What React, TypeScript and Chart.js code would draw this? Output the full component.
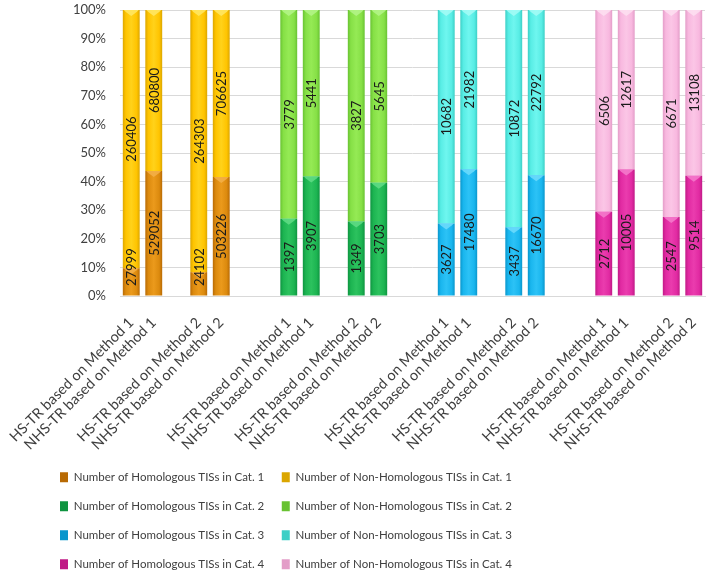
import React, { useEffect, useRef } from "react";
import { Chart, registerables } from "chart.js";

Chart.register(...registerables);

const categories = [
  "HS-TR based on Method 1", "NHS-TR based on Method 1", "", "HS-TR based on Method 2", "NHS-TR based on Method 2", "", "",
  "HS-TR based on Method 1", "NHS-TR based on Method 1", "", "HS-TR based on Method 2", "NHS-TR based on Method 2", "", "",
  "HS-TR based on Method 1", "NHS-TR based on Method 1", "", "HS-TR based on Method 2", "NHS-TR based on Method 2", "", "",
  "HS-TR based on Method 1", "NHS-TR based on Method 1", "", "HS-TR based on Method 2", "NHS-TR based on Method 2",
];

const homCat1 = [27999, 529052, 24102, 503226];
const nonHomCat1 = [260406, 680800, 264303, 706625];
const homCat2 = [1397, 3907, 1349, 3703];
const nonHomCat2 = [3779, 5441, 3827, 5645];
const homCat3 = [3627, 17480, 3437, 16670];
const nonHomCat3 = [10682, 21982, 10872, 22792];
const homCat4 = [2712, 10005, 2547, 9514];
const nonHomCat4 = [6506, 12617, 6671, 13108];

const yTicks = [0, 10, 20, 30, 40, 50, 60, 70, 80, 90, 100];

const seriesNames = [
  "Number of Homologous TISs in Cat. 1", "Number of Non-Homologous TISs in Cat. 1",
  "Number of Homologous TISs in Cat. 2", "Number of Non-Homologous TISs in Cat. 2",
  "Number of Homologous TISs in Cat. 3", "Number of Non-Homologous TISs in Cat. 3",
  "Number of Homologous TISs in Cat. 4", "Number of Non-Homologous TISs in Cat. 4",
];

// [dark edge, base, light centre, bevel highlight]
const palette = [
  ["#b86a04", "#dc8a0e", "#eb9a1c", "#f3b04a"],
  ["#dba600", "#ffc400", "#ffd21a", "#ffe766"],
  ["#0e9440", "#1cb451", "#2cc25e", "#62dc86"],
  ["#68c232", "#86e046", "#95ea55", "#b4f48a"],
  ["#0996cc", "#19b6ee", "#2cc2f6", "#6edcfc"],
  ["#3ccfc6", "#58ede5", "#6ff6ef", "#a6fbf6"],
  ["#c01a86", "#e12aa2", "#ea3cae", "#f47ccc"],
  ["#e39dc8", "#f8b8df", "#fbc6e6", "#fde0f1"],
];

const groups = [
  [homCat1, nonHomCat1],
  [homCat2, nonHomCat2],
  [homCat3, nonHomCat3],
  [homCat4, nonHomCat4],
];

function buildDatasets() {
  const slotMap: Array<[number, number] | null> = [];
  let n = 0;
  categories.forEach((c) => {
    if (c === "") slotMap.push(null);
    else {
      slotMap.push([Math.floor(n / 4), n % 4]);
      n++;
    }
  });
  const ds: any[] = [];
  groups.forEach((pair, g) => {
    pair.forEach((arr, s) => {
      const idx = g * 2 + s;
      const col = palette[idx];
      const raw: (number | null)[] = [];
      const pct: (number | null)[] = [];
      slotMap.forEach((m) => {
        if (m && m[0] === g) {
          const total = pair[0][m[1]] + pair[1][m[1]];
          raw.push(arr[m[1]]);
          pct.push((arr[m[1]] / total) * 100);
        } else {
          raw.push(null);
          pct.push(null);
        }
      });
      ds.push({
        label: seriesNames[idx],
        data: pct,
        rawValues: raw,
        bevel: col[3],
        stack: "s",
        barPercentage: 0.75,
        categoryPercentage: 1,
        borderWidth: 0,
        backgroundColor: (ctx: any) => {
          const chart = ctx.chart;
          const xs = chart.scales && chart.scales.x;
          if (ctx.type !== "data" || !xs) return col[1];
          const cx = xs.getPixelForValue(ctx.dataIndex);
          if (!isFinite(cx)) return col[1];
          const w = 17;
          const gr = chart.ctx.createLinearGradient(cx - w / 2, 0, cx + w / 2, 0);
          gr.addColorStop(0, col[0]);
          gr.addColorStop(0.18, col[1]);
          gr.addColorStop(0.5, col[2]);
          gr.addColorStop(0.82, col[1]);
          gr.addColorStop(1, col[0]);
          return gr;
        },
      });
    });
  });
  return ds;
}

const barDecor = {
  id: "barDecor",
  afterDatasetsDraw(chart: any) {
    const ctx = chart.ctx;
    const area = chart.chartArea;
    ctx.save();
    chart.data.datasets.forEach((ds: any, i: number) => {
      const meta = chart.getDatasetMeta(i);
      meta.data.forEach((el: any, j: number) => {
        const v = ds.rawValues[j];
        if (v == null) return;
        const { x, y, width } = el.getProps(["x", "y", "width"], true);
        const l = x - width / 2;
        const r = x + width / 2;
        ctx.fillStyle = ds.bevel;
        ctx.globalAlpha = 0.85;
        ctx.beginPath();
        ctx.moveTo(l + 1, y);
        ctx.lineTo(r - 1, y);
        ctx.lineTo(r - 3, y + 2);
        ctx.lineTo(x, y + 6);
        ctx.lineTo(l + 3, y + 2);
        ctx.closePath();
        ctx.fill();
        ctx.globalAlpha = 1;
      });
    });
    ctx.font = "13px Lato";
    ctx.fillStyle = "#1a1a1a";
    ctx.textAlign = "center";
    ctx.textBaseline = "middle";
    chart.data.datasets.forEach((ds: any, i: number) => {
      const meta = chart.getDatasetMeta(i);
      meta.data.forEach((el: any, j: number) => {
        const v = ds.rawValues[j];
        if (v == null) return;
        const { x, y, base } = el.getProps(["x", "y", "base"], true);
        const txt = String(v);
        const tw = ctx.measureText(txt).width;
        let c = (y + base) / 2;
        if (c + tw / 2 > area.bottom - 10) c = area.bottom - 10 - tw / 2;
        ctx.save();
        ctx.translate(x + 1, c);
        ctx.rotate(-Math.PI / 2);
        ctx.fillText(txt, 0, 0);
        ctx.restore();
      });
    });
    ctx.restore();
  },
};

export default function App() {
  const ref = useRef<HTMLCanvasElement | null>(null);
  useEffect(() => {
    if (!ref.current) return;
    const chart = new Chart(ref.current, {
      type: "bar",
      data: { labels: categories, datasets: buildDatasets() },
      plugins: [barDecor],
      options: {
        responsive: false,
        animation: false,
        layout: { padding: { top: 0, right: 3, left: 42.5, bottom: 0 } },
        scales: {
          x: {
            stacked: true,
            grid: { display: false, drawTicks: false },
            border: { display: true, color: "#d9d9d9" },
            ticks: {
              autoSkip: false,
              minRotation: 45,
              maxRotation: 45,
              padding: 18,
              color: "#404040",
              font: { family: "Lato", size: 14.5 },
            },
            afterFit: (s: any) => {
              s.height = 158;
              s.paddingLeft = 0;
              s.paddingRight = 0;
            },
          },
          y: {
            stacked: true,
            min: 0,
            max: 100,
            afterBuildTicks: (s: any) => {
              s.ticks = yTicks.map((v) => ({ value: v }));
            },
            grid: { color: "#d9d9d9", drawTicks: false },
            border: { display: false },
            ticks: {
              padding: 14,
              color: "#404040",
              font: { family: "Lato", size: 13 },
              callback: (v: any) => v + "%",
            },
            afterFit: (s: any) => {
              s.width = 77.5;
              s.paddingTop = 10;
              s.paddingBottom = 0;
            },
          },
        },
        plugins: {
          tooltip: { enabled: false },
          legend: {
            position: "bottom",
            align: "start",
            maxWidth: 470,
            labels: {
              boxWidth: 8,
              boxHeight: 10,
              padding: 17.5,
              color: "#404040",
              font: { family: "Lato", size: 11.5 },
            },
          },
        },
      },
    });
    return () => chart.destroy();
  }, []);
  return (
    <div style={{ position: "fixed", left: 0, top: 0, width: 708, height: 580 }}>
      <canvas ref={ref} width={708} height={580} />
    </div>
  );
}
